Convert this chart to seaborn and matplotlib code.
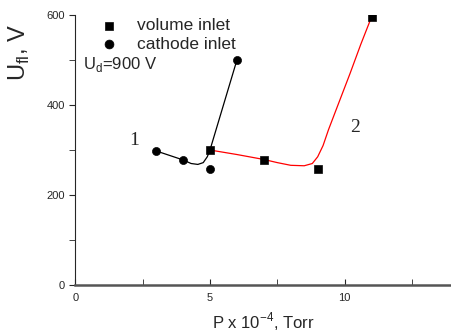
import numpy as np
import pandas as pd
import seaborn as sns
from matplotlib import pyplot as plt
from matplotlib.ticker import MultipleLocator

# measured points
vol_p = [5, 7, 9, 11]
vol_u = [300, 278, 258, 596]
cath_p = [3, 4, 5, 6]
cath_u = [298, 278, 258, 500]

# hand-drawn guide curves
curve1_p = [3, 3.5, 4, 4.3, 4.55, 4.75, 4.9, 5.0, 5.15, 5.35, 5.6, 5.8, 6.0]
curve1_u = [298, 288, 278, 270, 268, 272, 285, 300, 330, 370, 420, 460, 500]
curve2_p = [5, 6, 7, 7.5, 8, 8.5, 8.8, 9.0, 9.2, 9.4, 9.7, 10.2, 10.6, 11]
curve2_u = [300, 290, 279, 272, 266, 265, 270, 285, 310, 345, 392, 470, 535, 596]


def main():
    sns.set_style("ticks")
    plt.rcParams["font.family"] = ["Liberation Sans", "DejaVu Sans"]

    fig = plt.figure(figsize=(4.51, 3.36), dpi=100)
    ax = fig.add_axes([0.167, 0.152, 0.833, 0.803])

    c1 = pd.DataFrame({"p": curve1_p, "u": curve1_u})
    c2 = pd.DataFrame({"p": curve2_p, "u": curve2_u})
    sns.lineplot(data=c1, x="p", y="u", sort=False, color="black", linewidth=0.9, ax=ax)
    sns.lineplot(data=c2, x="p", y="u", sort=False, color="red", linewidth=0.9, ax=ax)

    vol = pd.DataFrame({"p": vol_p, "u": vol_u})
    cath = pd.DataFrame({"p": cath_p, "u": cath_u})
    sns.scatterplot(data=vol, x="p", y="u", marker="s", s=34, color="black",
                    edgecolor="black", label="volume inlet", ax=ax, zorder=3)
    sns.scatterplot(data=cath, x="p", y="u", marker="o", s=34, color="black",
                    edgecolor="black", label="cathode inlet", ax=ax, zorder=3)

    ax.set_xlim(0, 13.95)
    ax.set_ylim(0, 600)
    ax.xaxis.set_major_locator(MultipleLocator(5))
    ax.xaxis.set_minor_locator(MultipleLocator(2.5))
    ax.yaxis.set_major_locator(MultipleLocator(200))
    ax.yaxis.set_minor_locator(MultipleLocator(100))
    ax.tick_params(axis="x", which="both", direction="in", length=4, labelsize=8, pad=6)
    ax.tick_params(axis="y", which="both", direction="out", length=4, labelsize=8)
    sns.despine(ax=ax)
    ax.spines["bottom"].set_color("#555555")
    ax.spines["bottom"].set_linewidth(1.8)

    ax.set_xlabel("P x 10$^{\\mathregular{-4}}$, Torr", fontsize=12, labelpad=5)
    ax.set_ylabel("U$_{\\mathregular{fl}}$, V", fontsize=17)
    ax.yaxis.set_label_coords(-0.115, 0.86)

    ax.legend(loc="upper left", bbox_to_anchor=(0.026, 1.015), frameon=False,
              fontsize=12.5, handletextpad=0.6, labelspacing=0.2, borderaxespad=0,
              markerscale=1.1)
    ax.text(0.02, 0.8, "U$_{\\mathregular{d}}$=900 V", transform=ax.transAxes, fontsize=12)

    ax.text(2.2, 322, "1", fontsize=14, family="Liberation Serif", ha="center", va="center")
    ax.text(10.4, 349, "2", fontsize=14, family="Liberation Serif", ha="center", va="center")

    fig.savefig("out.png", dpi=100)


if __name__ == "__main__":
    main()
